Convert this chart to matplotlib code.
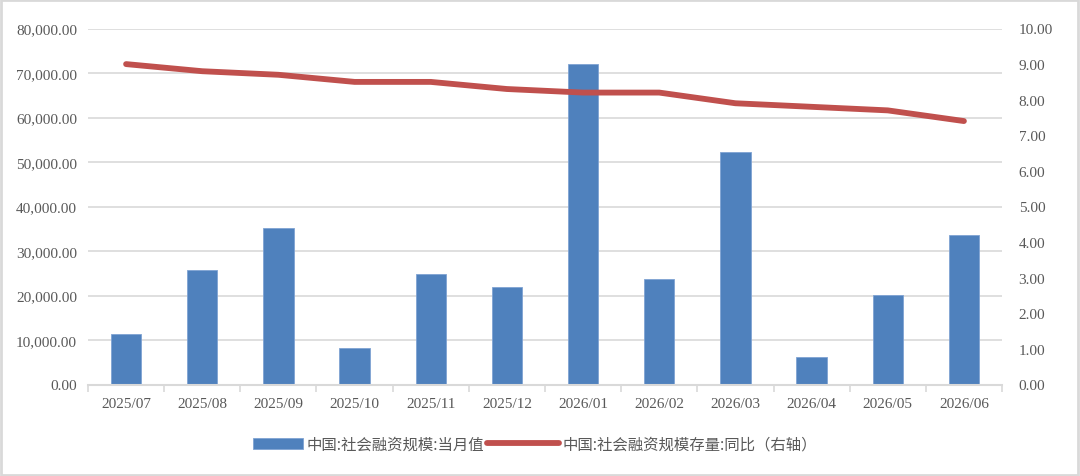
import matplotlib
matplotlib.use("Agg")
import matplotlib.pyplot as plt
from matplotlib.legend_handler import HandlerPatch
import numpy as np

categories = ["2025/07", "2025/08", "2025/09", "2025/10", "2025/11", "2025/12",
              "2026/01", "2026/02", "2026/03", "2026/04", "2026/05", "2026/06"]
monthly_value = [11300, 25700, 35200, 8100, 24800, 22000,
                 72100, 23700, 52300, 6100, 20200, 33500]
stock_yoy = [9.0, 8.8, 8.7, 8.5, 8.5, 8.3, 8.2, 8.2, 7.9, 7.8, 7.7, 7.4]
left_ticks = [0, 10000, 20000, 30000, 40000, 50000, 60000, 70000, 80000]
right_ticks = [0, 1, 2, 3, 4, 5, 6, 7, 8, 9, 10]
bar_label = "中国:社会融资规模:当月值"
line_label = "中国:社会融资规模存量:同比（右轴）"

serif = ["Liberation Serif", "DejaVu Serif"]
cjk = ["Noto Sans CJK SC", "DejaVu Sans"]
tick_color = "#595959"
grid_color = "#D9D9D9"

fig = plt.figure(figsize=(10.8, 4.77), dpi=100)
ax = fig.add_axes([88 / 1080, 1 - 385.5 / 477, (1002 - 88) / 1080, (385.5 - 29.5) / 477])
ax2 = ax.twinx()

x = np.arange(len(categories))
bars = ax.bar(x, monthly_value, width=0.4, color="#4F81BD", edgecolor="#7FA3D3",
              linewidth=0.6, label=bar_label, zorder=2)
line, = ax2.plot(x, stock_yoy, color="#C0504D", linewidth=4.2, solid_capstyle="round",
                 label=line_label, zorder=3)

ax.set_xlim(-0.5, len(categories) - 0.5)
ax.set_ylim(0, 80000)
ax2.set_ylim(0, 10)
ax.set_yticks(left_ticks)
ax.set_yticklabels([f"{v:,.2f}" for v in left_ticks], fontfamily=serif, fontsize=11, color=tick_color)
ax2.set_yticks(right_ticks)
ax2.set_yticklabels([f"{v:.2f}" for v in right_ticks], fontfamily=serif, fontsize=11, color=tick_color)
ax.set_xticks(x)
ax.set_xticklabels(categories, fontfamily=serif, fontsize=11, color=tick_color)
ax.set_xticks(np.arange(-0.5, len(categories)), minor=True)

ax.yaxis.grid(True, color=grid_color, linewidth=1.2, zorder=0)
ax.set_axisbelow(True)
for a in (ax, ax2):
    for s in ("top", "left", "right", "bottom"):
        a.spines[s].set_visible(False)
ax.spines["bottom"].set_visible(True)
ax.spines["bottom"].set_color(grid_color)
ax.spines["bottom"].set_linewidth(1.5)
ax.tick_params(axis="y", length=0, pad=8)
ax2.tick_params(axis="y", length=0, pad=12)
ax.tick_params(axis="x", which="major", length=0, pad=9)
ax.tick_params(axis="x", which="minor", length=5, color=grid_color, width=1.2)
ax2.set_zorder(ax.get_zorder() + 1)
ax2.patch.set_visible(False)


def bar_patch(legend, orig_handle, xdescent, ydescent, width, height, fontsize):
    bw = width * 50 / 73
    return plt.Rectangle((-xdescent + width - bw, -ydescent), bw, height)


bar_handle = bars.patches[0]
leg = fig.legend([bar_handle, line], [bar_label, line_label], loc="center",
                 bbox_to_anchor=(0.485, 1 - 445 / 477), ncol=2, frameon=False,
                 prop={"family": cjk, "size": 11.1}, handlelength=4.7, handleheight=0.7,
                 columnspacing=0.2, handletextpad=0.2,
                 handler_map={bar_handle: HandlerPatch(patch_func=bar_patch)})
for t in leg.get_texts():
    t.set_color(tick_color)

border = plt.Rectangle((0.001, 0.002), 0.997, 0.995, transform=fig.transFigure,
                       fill=False, edgecolor="#D9D9D9", linewidth=2)
fig.patches.append(border)

fig.savefig("out.png", dpi=100)
